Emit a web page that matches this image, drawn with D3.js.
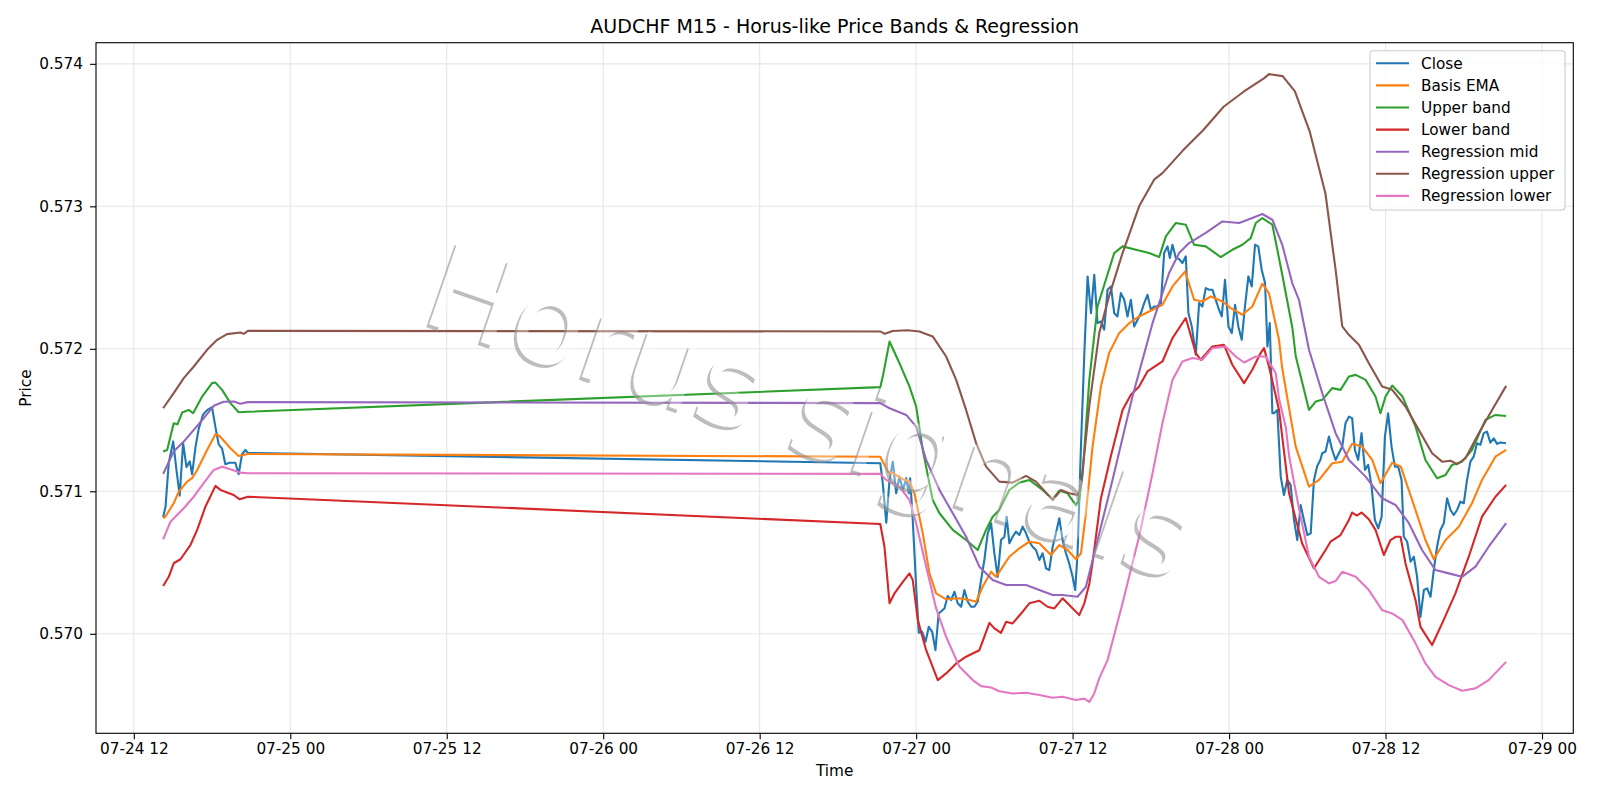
<!DOCTYPE html>
<html>
<head>
<meta charset="utf-8">
<script src="https://cdn.jsdelivr.net/npm/d3@7/dist/d3.min.js"></script>
<style>
  body { margin: 0; background: #fff; }
  svg text { font-family: "DejaVu Sans", sans-serif; fill: #000; }
</style>
</head>
<body>
<svg id="chart" width="1600" height="800"></svg>
<script>
// times are hours counted from 07-24 00:00, prices are AUDCHF
var BASE = Date.UTC(2025, 6, 24);

var closeData = [
  [14.25,.57082],[14.43,.57089],[14.68,.5712],[15.02,.57135],[15.27,.57115],[15.52,.57097],[15.78,.57134],
  [16.04,.57117],[16.29,.57121],[16.47,.57112],[16.73,.57131],[16.98,.57144],[17.32,.57154],[17.62,.57157],
  [18.0,.57159],[18.26,.57145],[18.51,.57133],[18.77,.5713],[19.02,.57119],[19.35,.5712],[19.79,.5712],
  [20.04,.57112],[20.3,.57126],[20.56,.57129],[20.75,.57127],
  [69.25,.571197],[69.44,.571057],[69.71,.57078],[69.96,.57108],[70.21,.571208],[70.47,.570986],[70.72,.571103],
  [70.98,.571009],[71.24,.571092],[71.44,.570986],[71.54,.571092],[71.74,.570799],[72.0,.57033],[72.2,.570008],
  [72.46,.570014],[72.72,.569944],[72.97,.570049],[73.23,.570014],[73.48,.569885],[73.73,.570143],[74.17,.570178],
  [74.42,.570265],[74.68,.570237],[74.94,.570295],[75.19,.570214],[75.45,.57019],[75.7,.570307],[75.96,.570225],
  [76.21,.57019],[76.47,.57019],[76.72,.570225],[76.98,.570377],[77.23,.570518],[77.49,.570705],[77.75,.570775],
  [78.0,.570565],[78.25,.5704],[78.51,.570658],[78.77,.570681],[78.94,.570822],[79.15,.570635],[79.4,.570681],
  [79.66,.570717],[79.91,.570693],[80.17,.570752],[80.43,.570705],[80.68,.570646],[80.93,.570611],[81.19,.570588],
  [81.45,.570518],[81.7,.570565],[81.96,.57046],[82.21,.570447],[82.47,.570611],[82.72,.570705],[82.98,.570811],
  [83.23,.570658],[83.49,.570565],[83.74,.570494],[84.0,.5704],[84.2,.570307],[84.38,.570565],[84.64,.571314],
  [84.9,.57197],[85.15,.572508],[85.41,.572251],[85.66,.57252],[85.91,.57218],[86.17,.572192],[86.42,.572134],
  [86.68,.572415],[86.94,.572438],[87.19,.572251],[87.44,.572227],[87.7,.572391],[87.96,.572344],[88.21,.572227],
  [88.47,.572344],[88.72,.572157],[88.98,.572204],[89.24,.572251],[89.49,.572321],[89.74,.572379],[90.0,.572274],
  [90.25,.572297],[90.5,.572297],[90.77,.572321],[91.02,.572672],[91.28,.572719],[91.46,.572637],[91.66,.57273],
  [91.92,.572637],[92.17,.57263],[92.42,.572602],[92.68,.572649],[92.88,.572251],[93.14,.572157],[93.45,.571958],
  [93.7,.572321],[93.95,.572297],[94.21,.572426],[94.47,.572415],[94.72,.572415],[94.98,.572344],[95.23,.572274],
  [95.44,.572227],[95.69,.572485],[95.95,.572157],[96.21,.57211],[96.46,.572309],[96.71,.572157],[96.97,.572063],
  [97.22,.572297],[97.48,.572508],[97.74,.572438],[97.99,.57273],[98.24,.572719],[98.5,.572555],[98.76,.572461],
  [98.94,.572016],[99.12,.57218],[99.32,.571548],[99.45,.571548],[99.7,.571571],[99.96,.571103],[100.21,.570974],
  [100.46,.57108],[100.72,.571045],[100.98,.570799],[101.23,.570658],[101.49,.570904],[101.74,.570799],[102.0,.570693],
  [102.26,.570705],[102.51,.57108],[102.76,.571178],[103.0,.57122],[103.14,.571267],[103.4,.571279],[103.66,.571384],
  [103.91,.57129],[104.17,.57122],[104.42,.571267],[104.68,.571314],[104.93,.571478],[105.19,.571524],[105.44,.571513],
  [105.65,.57129],[105.9,.57122],[106.16,.571408],[106.42,.57115],[106.67,.571185],[106.93,.571033],[107.18,.570799],
  [107.44,.57074],[107.7,.570822],[107.95,.571384],[108.2,.571548],[108.46,.571314],[108.72,.571173],[108.97,.571173],
  [109.23,.57108],[109.4,.570681],[109.66,.570646],[109.92,.570506],[110.17,.570541],[110.42,.5704],[110.68,.570119],
  [110.94,.570307],[111.19,.570319],[111.45,.57026],[111.7,.570447],[111.95,.570611],[112.21,.570729],[112.47,.570776],
  [112.72,.570951],[112.98,.570869],[113.23,.570834],[113.49,.570869],[113.74,.570927],[114.0,.570916],[114.25,.57108],
  [114.51,.571208],[114.76,.571243],[115.02,.571337],[115.27,.571326],[115.53,.571408],[115.78,.571419],[116.04,.571342],
  [116.3,.571372],[116.55,.571333],[116.81,.571342],[117.24,.571337]
];

var basisEma = [
  [14.25,.570811],[14.4,.57082],[15.06,.570916],[15.45,.570998],[16.09,.571068],[16.47,.571092],[16.86,.57115],
  [17.62,.57129],[18.26,.5714],[18.56,.57139],[19.41,.571302],[20.04,.571248],[20.75,.571262],
  [69.25,.571243],[69.83,.571138],[70.21,.571127],[70.98,.571085],[71.49,.571068],[71.87,.570986],[72.51,.570705],
  [73.02,.570424],[73.53,.570284],[74.3,.570242],[75.32,.570249],[76.09,.570237],[76.6,.570225],[77.1,.57033],
  [77.75,.570436],[78.13,.5704],[78.64,.570471],[79.15,.570541],[79.91,.5706],[80.68,.570646],[81.45,.570635],
  [82.34,.570553],[82.98,.570623],[83.61,.570588],[84.26,.570523],[84.64,.570565],[85.02,.570846],[85.53,.571314],
  [86.17,.571735],[86.8,.57197],[87.57,.57211],[88.34,.57218],[89.1,.572227],[89.87,.572262],[90.89,.572309],
  [91.66,.572438],[92.63,.572543],[93.32,.572344],[93.95,.572332],[94.6,.572367],[95.49,.572332],[96.13,.572286],
  [97.02,.572239],[97.78,.572297],[98.55,.572457],[99.06,.572391],[99.83,.572063],[100.08,.57186],[101.11,.571314],
  [102.13,.571033],[102.9,.57108],[103.91,.571197],[104.68,.571208],[105.44,.571333],[106.21,.571314],[106.98,.57122],
  [107.61,.571057],[108.51,.571201],[109.17,.571173],[110.04,.570939],[111.06,.570658],[111.7,.570523],[112.6,.570658],
  [113.62,.570752],[114.63,.570916],[115.4,.57108],[116.43,.571243],[117.25,.57129]
];

var upperBand = [
  [14.25,.571279],[14.56,.57129],[15.06,.571478],[15.35,.57147],[15.71,.571553],[16.21,.571571],[16.55,.571548],
  [17.24,.571665],[18.0,.571759],[18.26,.571763],[18.77,.571712],[19.41,.571619],[20.04,.571555],[20.75,.571558],
  [69.25,.571731],[69.44,.571805],[69.96,.572051],[70.72,.571899],[71.49,.571735],[72.0,.571595],[72.51,.57129],
  [73.27,.570939],[73.79,.570846],[74.81,.570729],[75.83,.570658],[76.72,.570588],[77.36,.570729],[77.87,.570822],
  [78.38,.570869],[79.15,.571009],[79.91,.571061],[80.68,.57108],[81.7,.571009],[82.47,.570944],[82.98,.571005],
  [83.61,.570986],[84.26,.570902],[84.51,.570939],[84.77,.571127],[85.28,.571782],[85.91,.572297],[86.55,.572485],
  [87.19,.572672],[87.83,.572719],[88.86,.572695],[89.87,.572672],[90.64,.572644],[91.15,.572789],[91.92,.572883],
  [92.68,.572871],[93.32,.57273],[94.21,.572719],[95.36,.572644],[96.25,.572695],[97.02,.57273],[97.66,.572777],
  [98.05,.572883],[98.55,.572918],[99.32,.572871],[100.08,.57252],[100.85,.57215],[101.11,.57195],[102.13,.571571],
  [102.64,.57163],[103.15,.571642],[103.91,.571724],[104.55,.571712],[105.19,.571806],[105.71,.571817],[106.47,.571782],
  [107.23,.571665],[107.61,.571548],[108.0,.571665],[108.51,.571742],[109.3,.571665],[110.3,.571454],[111.06,.57122],
  [111.95,.571092],[112.6,.571115],[113.1,.571185],[113.87,.571208],[114.63,.57129],[115.66,.571501],[116.43,.571536],
  [117.25,.571529]
];

var lowerBand = [
  [14.25,.570335],[14.68,.5704],[15.06,.570495],[15.58,.570523],[16.34,.570623],[16.86,.570729],[17.49,.570892],
  [18.26,.571038],[18.64,.57101],[19.15,.570991],[19.66,.570974],[20.12,.570944],[20.75,.570962],
  [69.25,.570771],[69.57,.570611],[69.96,.570214],[70.34,.570284],[70.98,.570365],[71.49,.570424],[71.74,.570377],
  [72.13,.570096],[72.77,.569885],[73.66,.569675],[74.3,.569722],[75.07,.569792],[75.83,.569839],[76.85,.569885],
  [77.62,.570077],[78.0,.570038],[78.51,.570007],[78.9,.570084],[79.4,.570073],[80.17,.570155],[80.68,.570214],
  [81.45,.570232],[82.08,.57019],[82.6,.570178],[83.23,.570249],[83.61,.570214],[84.51,.570131],[84.9,.570214],
  [85.28,.57035],[85.53,.5705],[86.17,.57095],[86.94,.57125],[87.83,.571571],[88.47,.571677],[89.1,.571735],
  [89.74,.571841],[90.89,.571911],[91.66,.572075],[92.68,.572216],[93.45,.57197],[93.83,.571923],[94.72,.572016],
  [95.61,.572028],[96.25,.571888],[97.15,.571759],[97.78,.571853],[98.42,.57197],[98.68,.572005],[99.06,.571876],
  [99.83,.571571],[100.6,.570986],[101.6,.570635],[102.51,.570459],[103.4,.570588],[103.78,.570646],[104.55,.570693],
  [105.19,.570799],[105.44,.570851],[105.8,.57083],[106.16,.570851],[106.72,.570804],[107.23,.570729],[107.87,.570553],
  [108.38,.570658],[108.77,.570681],[109.15,.570681],[109.53,.570494],[110.3,.570236],[110.68,.570049],[111.57,.569921],
  [112.34,.570073],[113.36,.570284],[114.38,.570541],[115.4,.570822],[116.43,.570962],[117.25,.571045]
];

var regMid = [
  [14.25,.571122],[15.06,.571279],[15.83,.571349],[16.6,.571431],[17.36,.571513],[18.13,.5716],[18.89,.571628],
  [19.66,.57163],[20.17,.571614],[20.75,.571626],
  [69.25,.571619],[69.96,.571583],[71.24,.571536],[72.0,.571454],[72.77,.57122],[73.79,.571009],[74.81,.570846],
  [75.83,.570681],[76.85,.570471],[77.87,.570377],[78.9,.570342],[80.43,.570342],[81.45,.570307],[82.47,.570272],
  [83.23,.570272],[84.38,.57026],[85.02,.57033],[85.79,.570611],[87.06,.571079],[88.59,.571665],[90.13,.57218],
  [91.4,.572532],[92.17,.572672],[92.93,.572742],[94.21,.572813],[95.49,.572894],[96.77,.572883],[97.78,.572918],
  [98.55,.572946],[99.32,.572906],[100.08,.57273],[100.85,.57246],[101.36,.572344],[102.13,.571993],[103.15,.571688],
  [104.17,.571408],[105.19,.57122],[106.47,.571103],[107.74,.570951],[108.77,.570904],[109.79,.570776],[110.8,.570588],
  [111.83,.570447],[112.85,.570424],[113.87,.5704],[114.9,.570471],[115.91,.570611],[117.25,.570776]
];

var regUpper = [
  [14.25,.571583],[15.06,.571689],[15.83,.571794],[16.6,.571876],[17.62,.571993],[18.39,.572063],[19.15,.572103],
  [20.17,.572115],[20.43,.572105],[20.75,.572126],
  [69.25,.572122],[69.6,.572105],[70.2,.572125],[71.34,.57213],[72.25,.572122],[73.27,.572087],[74.3,.571946],
  [75.07,.571782],[75.83,.571571],[76.6,.571338],[77.36,.571173],[78.38,.571068],[79.4,.571061],[80.43,.571108],
  [81.19,.571068],[82.47,.570939],[83.11,.571009],[83.74,.570986],[84.38,.570974],[84.64,.571033],[85.28,.5716],
  [86.04,.57211],[86.8,.57237],[87.83,.572672],[89.1,.573],[90.25,.573187],[90.89,.573233],[92.45,.573391],
  [94.01,.573534],[95.58,.573699],[97.14,.573806],[98.7,.5739],[99.06,.573928],[100.11,.573914],[101.05,.573807],
  [102.2,.57352],[103.39,.57309],[104.17,.572555],[104.68,.572157],[105.19,.572098],[105.96,.572028],[106.72,.571899],
  [107.74,.571735],[108.51,.571712],[109.53,.571595],[110.55,.571431],[111.57,.571267],[112.34,.571208],[112.98,.571215],
  [113.49,.57119],[114.13,.571232],[115.15,.571408],[116.17,.571571],[117.25,.57174]
];

var regLower = [
  [14.25,.570663],[14.81,.570787],[15.32,.570834],[15.83,.570881],[16.6,.570962],[17.36,.571057],[18.13,.57115],
  [18.77,.571173],[19.41,.571155],[20.17,.571131],[20.75,.571127],
  [69.25,.571122],[69.71,.57108],[70.72,.571033],[71.49,.570939],[72.0,.570776],[72.77,.570471],[73.53,.57018],
  [74.3,.569979],[75.32,.569768],[76.34,.569675],[76.98,.569633],[77.75,.569623],[78.38,.569597],[79.4,.569581],
  [80.43,.569586],[81.45,.56957],[82.47,.569551],[83.23,.569558],[84.26,.569535],[84.9,.569545],[85.28,.569522],
  [85.66,.569581],[86.04,.569687],[86.68,.569815],[87.83,.570214],[89.1,.570682],[90.13,.571127],[90.89,.571478],
  [91.66,.571782],[92.42,.571911],[93.19,.571935],[93.95,.571923],[94.72,.572005],[95.74,.572016],[96.51,.571946],
  [97.15,.571904],[98.05,.571946],[98.82,.571946],[99.58,.57183],[99.83,.57165],[100.35,.57145],[100.6,.57125],
  [101.36,.57088],[102.13,.570541],[102.9,.5704],[103.66,.570354],[104.17,.57037],[104.68,.570435],[105.71,.5704],
  [106.72,.570307],[107.74,.570166],[108.51,.570143],[109.3,.570096],[110.3,.569933],[111.06,.569792],[111.83,.569698],
  [112.85,.56964],[113.87,.5696],[114.9,.569617],[115.91,.569675],[117.25,.569803]
];

var seriesNames = ['Close', 'Basis EMA', 'Upper band', 'Lower band', 'Regression mid', 'Regression upper', 'Regression lower'];
var seriesColors = ['#1f77b4', '#ff7f0e', '#2ca02c', '#d62728', '#9467bd', '#8c564b', '#e377c2'];
var seriesData = [closeData, basisEma, upperBand, lowerBand, regMid, regUpper, regLower];

var yTickValues = [0.570, 0.571, 0.572, 0.573, 0.574];
var xTickHours = [12, 24, 36, 48, 60, 72, 84, 96, 108, 120];

var titleText = 'AUDCHF M15 - Horus-like Price Bands & Regression';
var watermarkText = 'Horus signals';

function toDate(h) { return new Date(BASE + h * 3600e3); }

var plot = { left: 96, right: 1573.3, top: 42.7, bottom: 733.3 };

var svg = d3.select('#chart');

// matplotlib-like 5% margins around the data
var allPts = d3.merge(seriesData);
var hExt = d3.extent(allPts, function (d) { return d[0]; });
var vExt = d3.extent(allPts, function (d) { return d[1]; });
var hPad = (hExt[1] - hExt[0]) * 0.05;
var vPad = (vExt[1] - vExt[0]) * 0.05;

var x = d3.scaleUtc()
  .domain([toDate(hExt[0] - hPad), toDate(hExt[1] + hPad)])
  .range([plot.left, plot.right]);
var y = d3.scaleLinear()
  .domain([vExt[0] - vPad, vExt[1] + vPad])
  .range([plot.bottom, plot.top]);

var xTicks = xTickHours.map(toDate);

// grid
var grid = svg.append('g').attr('stroke', '#e6e6e6').attr('stroke-width', 1.1);
xTicks.forEach(function (t) {
  grid.append('line')
    .attr('x1', x(t)).attr('x2', x(t))
    .attr('y1', plot.top).attr('y2', plot.bottom);
});
yTickValues.forEach(function (v) {
  grid.append('line')
    .attr('x1', plot.left).attr('x2', plot.right)
    .attr('y1', y(v)).attr('y2', y(v));
});

// lines
var line = d3.line()
  .x(function (d) { return x(toDate(d[0])); })
  .y(function (d) { return y(d[1]); });

var lines = svg.append('g');
seriesData.forEach(function (data, i) {
  lines.append('path')
    .datum(data)
    .attr('d', line)
    .attr('fill', 'none')
    .attr('stroke', seriesColors[i])
    .attr('stroke-width', 2.1)
    .attr('stroke-linejoin', 'round');
});

// watermark: only the part of a grey shadow copy that sticks out from the glyphs shows,
// the glyphs themselves are a faint white veil over the lines
var wmX = 810, wmY = 412, wmAngle = 19, wmSize = '119px';
function wmText(sel, dx, dy) {
  return sel.append('text')
    .attr('transform', 'translate(' + (wmX + dx) + ',' + (wmY + dy) + ') rotate(' + wmAngle + ')')
    .attr('text-anchor', 'middle')
    .attr('dominant-baseline', 'central')
    .style('font-size', wmSize)
    .text(watermarkText);
}
var mask = svg.append('defs').append('mask')
  .attr('id', 'wm-mask')
  .attr('maskUnits', 'userSpaceOnUse')
  .attr('x', 0).attr('y', 0).attr('width', 1600).attr('height', 800);
mask.append('rect').attr('width', 1600).attr('height', 800).attr('fill', '#fff');
wmText(mask, 0, 0).style('fill', '#000');

var shadow = svg.append('g').attr('mask', 'url(#wm-mask)');
wmText(shadow, -3, 3)
  .style('fill', '#999')
  .style('fill-opacity', 0.65);
wmText(svg, 0, 0)
  .style('fill', '#fff')
  .style('fill-opacity', 0.35);

// axes
var xAxis = svg.append('g')
  .attr('transform', 'translate(0,' + plot.bottom + ')')
  .call(d3.axisBottom(x).tickValues(xTicks).tickFormat(d3.utcFormat('%m-%d %H')).tickSize(6).tickPadding(4));
var yAxis = svg.append('g')
  .attr('transform', 'translate(' + plot.left + ',0)')
  .call(d3.axisLeft(y).tickValues(yTickValues).tickFormat(d3.format('.3f')).tickSize(6).tickPadding(7));
[xAxis, yAxis].forEach(function (a) {
  a.select('.domain').remove();
  a.selectAll('.tick line').attr('stroke', '#000').attr('stroke-width', 1.1);
  a.selectAll('.tick text').style('font-size', '15.3px').style('font-family', '"DejaVu Sans", sans-serif').attr('fill', '#000');
});

svg.append('rect')
  .attr('x', plot.left).attr('y', plot.top)
  .attr('width', plot.right - plot.left).attr('height', plot.bottom - plot.top)
  .attr('fill', 'none').attr('stroke', '#000').attr('stroke-width', 1.1);

// labels
svg.append('text')
  .attr('x', (plot.left + plot.right) / 2).attr('y', 33)
  .attr('text-anchor', 'middle')
  .style('font-size', '19px')
  .text(titleText);
svg.append('text')
  .attr('x', (plot.left + plot.right) / 2).attr('y', 775.5)
  .attr('text-anchor', 'middle')
  .style('font-size', '15.3px')
  .text('Time');
svg.append('text')
  .attr('transform', 'translate(31,' + ((plot.top + plot.bottom) / 2) + ') rotate(-90)')
  .attr('text-anchor', 'middle')
  .style('font-size', '15.3px')
  .text('Price');

// legend
var legend = svg.append('g');
legend.append('rect')
  .attr('x', 1370).attr('y', 50.7)
  .attr('width', 195).attr('height', 159.3)
  .attr('rx', 3)
  .attr('fill', '#fff').attr('fill-opacity', 0.8)
  .attr('stroke', '#cccccc').attr('stroke-width', 1.1);
seriesNames.forEach(function (name, i) {
  var cy = 63.3 + i * 22.1;
  legend.append('line')
    .attr('x1', 1376).attr('x2', 1409)
    .attr('y1', cy).attr('y2', cy)
    .attr('stroke', seriesColors[i]).attr('stroke-width', 2.1);
  legend.append('text')
    .attr('x', 1421).attr('y', cy + 5.5)
    .style('font-size', '15.3px')
    .text(name);
});
</script>
</body>
</html>
